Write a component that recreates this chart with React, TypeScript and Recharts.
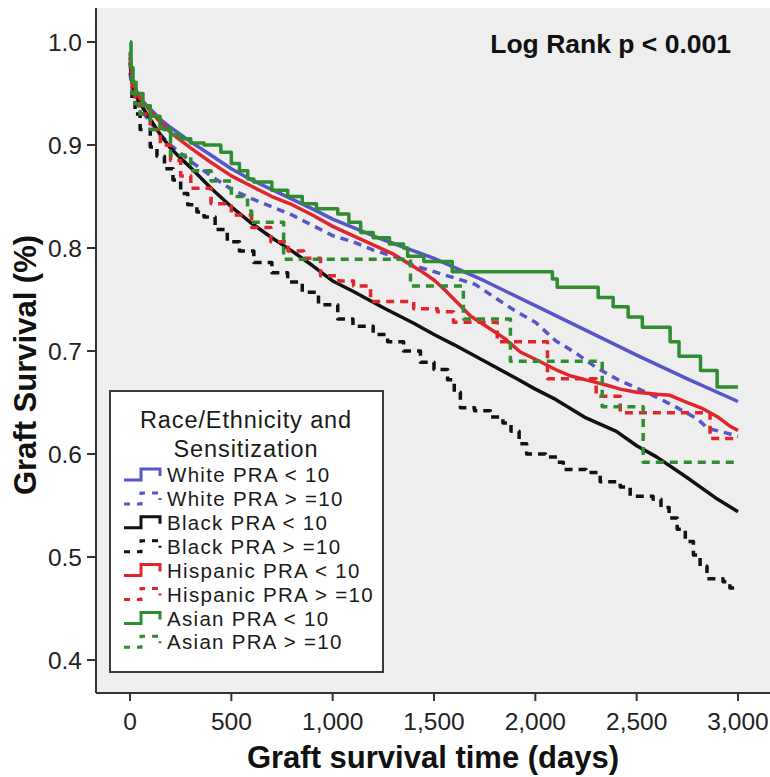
import React from 'react';
import { LineChart, Line, XAxis, YAxis, CartesianGrid, Legend } from 'recharts';

type P = [number, number];

// Kaplan-Meier graft survival estimates (days, survival proportion)
const whiteLow: P[] = [
  [0, 0.99], [10, 0.965], [25, 0.955], [50, 0.945], [100, 0.935], [150, 0.925], [200, 0.917],
  [300, 0.903], [400, 0.89], [500, 0.877], [600, 0.866], [750, 0.852], [900, 0.838], [1000, 0.828],
  [1250, 0.808], [1500, 0.79], [1750, 0.768], [2000, 0.744], [2250, 0.72], [2500, 0.696],
  [2750, 0.673], [3000, 0.651],
];
const whiteHigh: P[] = [
  [0, 0.97], [10, 0.955], [25, 0.945], [50, 0.935], [100, 0.922], [150, 0.91], [200, 0.9],
  [250, 0.892], [300, 0.884], [400, 0.87], [500, 0.857], [600, 0.848], [700, 0.84], [800, 0.832],
  [900, 0.822], [1000, 0.812], [1100, 0.806], [1200, 0.798], [1300, 0.792], [1400, 0.783],
  [1500, 0.777], [1600, 0.771], [1700, 0.765], [1800, 0.752], [1900, 0.739], [2000, 0.728],
  [2100, 0.71], [2200, 0.698], [2300, 0.684], [2400, 0.673], [2500, 0.664], [2600, 0.655],
  [2700, 0.645], [2800, 0.634], [2850, 0.625], [2950, 0.62], [3000, 0.617],
];
const blackLow: P[] = [
  [0, 0.98], [10, 0.96], [25, 0.95], [50, 0.94], [100, 0.925], [150, 0.91], [200, 0.897],
  [250, 0.887], [300, 0.878], [400, 0.858], [500, 0.84], [600, 0.824], [700, 0.81], [800, 0.797],
  [900, 0.783], [1000, 0.768], [1100, 0.758], [1250, 0.742], [1400, 0.727], [1500, 0.716],
  [1600, 0.706], [1750, 0.69], [1900, 0.674], [2000, 0.663], [2100, 0.653], [2250, 0.635],
  [2400, 0.622], [2500, 0.608], [2600, 0.597], [2750, 0.577], [2900, 0.556], [3000, 0.544],
];
const blackHigh: P[] = [
  [0, 0.965], [10, 0.945], [25, 0.93], [50, 0.915], [100, 0.898], [133, 0.889], [170, 0.877],
  [212, 0.866], [250, 0.853], [285, 0.842], [330, 0.835], [365, 0.83], [420, 0.818], [480, 0.806],
  [540, 0.797], [611, 0.786], [700, 0.776], [778, 0.767], [850, 0.757], [930, 0.745], [1025, 0.731],
  [1100, 0.724], [1200, 0.716], [1271, 0.709], [1350, 0.7], [1433, 0.689], [1500, 0.682],
  [1567, 0.672], [1600, 0.66], [1630, 0.645], [1700, 0.642], [1778, 0.636], [1840, 0.63],
  [1880, 0.622], [1920, 0.61], [1957, 0.6], [2050, 0.597], [2108, 0.592], [2138, 0.585],
  [2250, 0.582], [2320, 0.573], [2419, 0.568], [2468, 0.559], [2581, 0.556], [2620, 0.548],
  [2660, 0.538], [2700, 0.527], [2740, 0.515], [2780, 0.502], [2813, 0.491], [2847, 0.479],
  [2926, 0.476], [2960, 0.47], [3000, 0.468],
];
const hispLow: P[] = [
  [0, 0.985], [10, 0.965], [25, 0.955], [50, 0.945], [100, 0.933], [150, 0.922], [200, 0.912],
  [300, 0.897], [400, 0.883], [500, 0.87], [600, 0.86], [700, 0.85], [800, 0.842], [900, 0.832],
  [1000, 0.821], [1100, 0.812], [1200, 0.803], [1300, 0.794], [1433, 0.778], [1500, 0.769],
  [1550, 0.76], [1600, 0.75], [1680, 0.734], [1750, 0.725], [1850, 0.712], [1926, 0.699],
  [2000, 0.692], [2100, 0.682], [2172, 0.676], [2250, 0.672], [2350, 0.667], [2419, 0.663],
  [2500, 0.66], [2600, 0.658], [2665, 0.657], [2750, 0.65], [2827, 0.644], [2900, 0.636],
  [2960, 0.627], [3000, 0.623],
];
const hispHigh: P[] = [
  [0, 0.975], [10, 0.955], [25, 0.94], [50, 0.93], [100, 0.915], [150, 0.9], [200, 0.885],
  [250, 0.87], [300, 0.858], [400, 0.843], [500, 0.832], [600, 0.82], [695, 0.806], [780, 0.797],
  [857, 0.79], [940, 0.773], [1030, 0.768], [1103, 0.763], [1187, 0.748], [1400, 0.741],
  [1517, 0.738], [1596, 0.728], [1812, 0.709], [2060, 0.673], [2300, 0.656], [2419, 0.64],
  [2862, 0.615], [3000, 0.615],
];
const asianLow: P[] = [
  [0, 1.0], [5, 0.975], [15, 0.961], [30, 0.95], [64, 0.938], [100, 0.928], [148, 0.916],
  [200, 0.91], [247, 0.906], [300, 0.902], [365, 0.9], [448, 0.893], [500, 0.882], [540, 0.875],
  [581, 0.867], [611, 0.864], [700, 0.856], [778, 0.85], [850, 0.843], [920, 0.838], [1025, 0.833],
  [1080, 0.825], [1138, 0.815], [1200, 0.81], [1280, 0.804], [1350, 0.8], [1370, 0.792],
  [1450, 0.787], [1590, 0.777], [2084, 0.77], [2108, 0.762], [2310, 0.752], [2384, 0.743],
  [2458, 0.733], [2528, 0.723], [2665, 0.709], [2709, 0.695], [2815, 0.681], [2897, 0.665],
  [3000, 0.665],
];
const asianHigh: P[] = [
  [0, 0.965], [10, 0.95], [25, 0.94], [50, 0.93], [100, 0.915], [200, 0.89], [300, 0.875],
  [400, 0.865], [500, 0.85], [580, 0.836], [600, 0.825], [758, 0.789], [1384, 0.763],
  [1645, 0.731], [1877, 0.69], [2330, 0.646], [2532, 0.592], [3000, 0.592],
];

const xTicks = [0, 500, 1000, 1500, 2000, 2500, 3000];
const yTicks = [0.4, 0.5, 0.6, 0.7, 0.8, 0.9, 1.0];
const legendTitle = ['Race/Ethnicity and', 'Sensitization'];
const annotation = 'Log Rank p < 0.001';
const xTitle = 'Graft survival time (days)';
const yTitle = 'Graft Survival (%)';

const BLUE = '#5656c8';
const BLACK = '#111111';
const RED = '#e0262c';
const GREEN = '#2f8c30';

// large groups have tiny KM steps (drawn as a continuous trace); small groups show their steps
const series = [
  { name: 'White PRA < 10', pts: whiteLow, color: BLUE, dashed: false, curve: 'linear' },
  { name: 'White PRA > =10', pts: whiteHigh, color: BLUE, dashed: true, curve: 'linear' },
  { name: 'Black PRA < 10', pts: blackLow, color: BLACK, dashed: false, curve: 'linear' },
  { name: 'Black PRA > =10', pts: blackHigh, color: BLACK, dashed: true, curve: 'stepAfter' },
  { name: 'Hispanic PRA < 10', pts: hispLow, color: RED, dashed: false, curve: 'linear' },
  { name: 'Hispanic PRA > =10', pts: hispHigh, color: RED, dashed: true, curve: 'stepAfter' },
  { name: 'Asian PRA < 10', pts: asianLow, color: GREEN, dashed: false, curve: 'stepAfter' },
  { name: 'Asian PRA > =10', pts: asianHigh, color: GREEN, dashed: true, curve: 'stepAfter' },
];

const FONT = '"Liberation Sans", Arial, Helvetica, sans-serif';
const X_DOMAIN: [number, number] = [-167.8, 3157.9];
const Y_DOMAIN: [number, number] = [0.368, 1.033];

const LegendBox = () => (
  <svg width={276} height={284} style={{ display: 'block', overflow: 'visible' }}>
    <rect x={1} y={1} width={273} height={281} fill="#ffffff" stroke="#3a3a3a" strokeWidth={2} />
    {legendTitle.map((line, i) => (
      <text key={line} x={137} y={30 + i * 29} dy="0.35em" textAnchor="middle" fontSize={23.5}
        letterSpacing={0.9} fontFamily={FONT} fill="#1a1a1a">{line}</text>
    ))}
    {series.map((s, i) => {
      const cy = 85 + i * 23.9;
      return (
        <g key={s.name}>
          <path d={`M15 ${cy + 5} H32 V${cy - 6} H51 V${cy + 1}`} fill="none" stroke={s.color}
            strokeWidth={3} strokeDasharray={s.dashed ? '6 7' : undefined} />
          <text x={58} y={cy} dy="0.35em" fontSize={20.5} letterSpacing={1.3} fontFamily={FONT}
            fill="#1a1a1a">{s.name}</text>
        </g>
      );
    })}
  </svg>
);

export default function App() {
  return (
    <div style={{ position: 'absolute', left: 0, top: 0, width: 770, height: 777, background: '#ffffff' }}>
      <LineChart width={770} height={777} margin={{ top: 8, right: 0, bottom: 0, left: 0 }}>
        <CartesianGrid horizontal={false} vertical={false} fill="#eeeeee" />
        <XAxis
          xAxisId="top"
          orientation="top"
          type="number"
          domain={X_DOMAIN}
          allowDataOverflow
          height={0}
          tick={false}
          tickLine={false}
          axisLine={{ stroke: '#333333', strokeWidth: 2 }}
        />
        <XAxis
          type="number"
          dataKey="t"
          domain={X_DOMAIN}
          allowDataOverflow
          ticks={xTicks}
          height={84}
          tickSize={8}
          tickMargin={12}
          tickFormatter={(v: number) => v.toLocaleString('en-US')}
          tick={{ fontSize: 24.5, fill: '#222222', fontFamily: FONT }}
          axisLine={{ stroke: '#333333', strokeWidth: 2 }}
          tickLine={{ stroke: '#333333', strokeWidth: 2 }}
          label={{
            content: () => (
              <g>
                <text x={433} y={768} textAnchor="middle" fontSize={31} fontWeight="bold" fontFamily={FONT}
                  fill="#111111">{xTitle}</text>
                <text x={731} y={53} textAnchor="end" fontSize={26.5} fontWeight="bold" fontFamily={FONT}
                  fill="#111111">{annotation}</text>
              </g>
            ),
          }}
        />
        <YAxis
          type="number"
          dataKey="v"
          domain={Y_DOMAIN}
          allowDataOverflow
          ticks={yTicks}
          width={96}
          tickSize={9}
          tickMargin={5}
          tickFormatter={(v: number) => v.toFixed(1)}
          tick={{ fontSize: 24.5, fill: '#222222', fontFamily: FONT }}
          axisLine={{ stroke: '#333333', strokeWidth: 2 }}
          tickLine={{ stroke: '#333333', strokeWidth: 2 }}
          label={{
            content: () => (
              <text x={25} y={365} transform="rotate(-90 25 365)" textAnchor="middle" dominantBaseline="central"
                fontSize={31} fontWeight="bold" fontFamily={FONT} fill="#111111">{yTitle}</text>
            ),
          }}
        />
        {series.map((s) => (
          <Line
            key={s.name}
            name={s.name}
            data={s.pts.map(([t, v]) => ({ t, v }))}
            dataKey="v"
            type={s.curve as 'linear' | 'stepAfter'}
            stroke={s.color}
            strokeWidth={3.5}
            strokeDasharray={s.dashed ? '8 6' : undefined}
            strokeLinejoin="round"
            dot={false}
            activeDot={false}
            isAnimationActive={false}
          />
        ))}
        <Legend
          layout="horizontal"
          verticalAlign="middle"
          align="center"
          content={() => <LegendBox />}
          wrapperStyle={{ position: 'absolute', left: 109, top: 390, width: 276, height: 284, margin: 0, padding: 0 }}
        />
      </LineChart>
    </div>
  );
}
